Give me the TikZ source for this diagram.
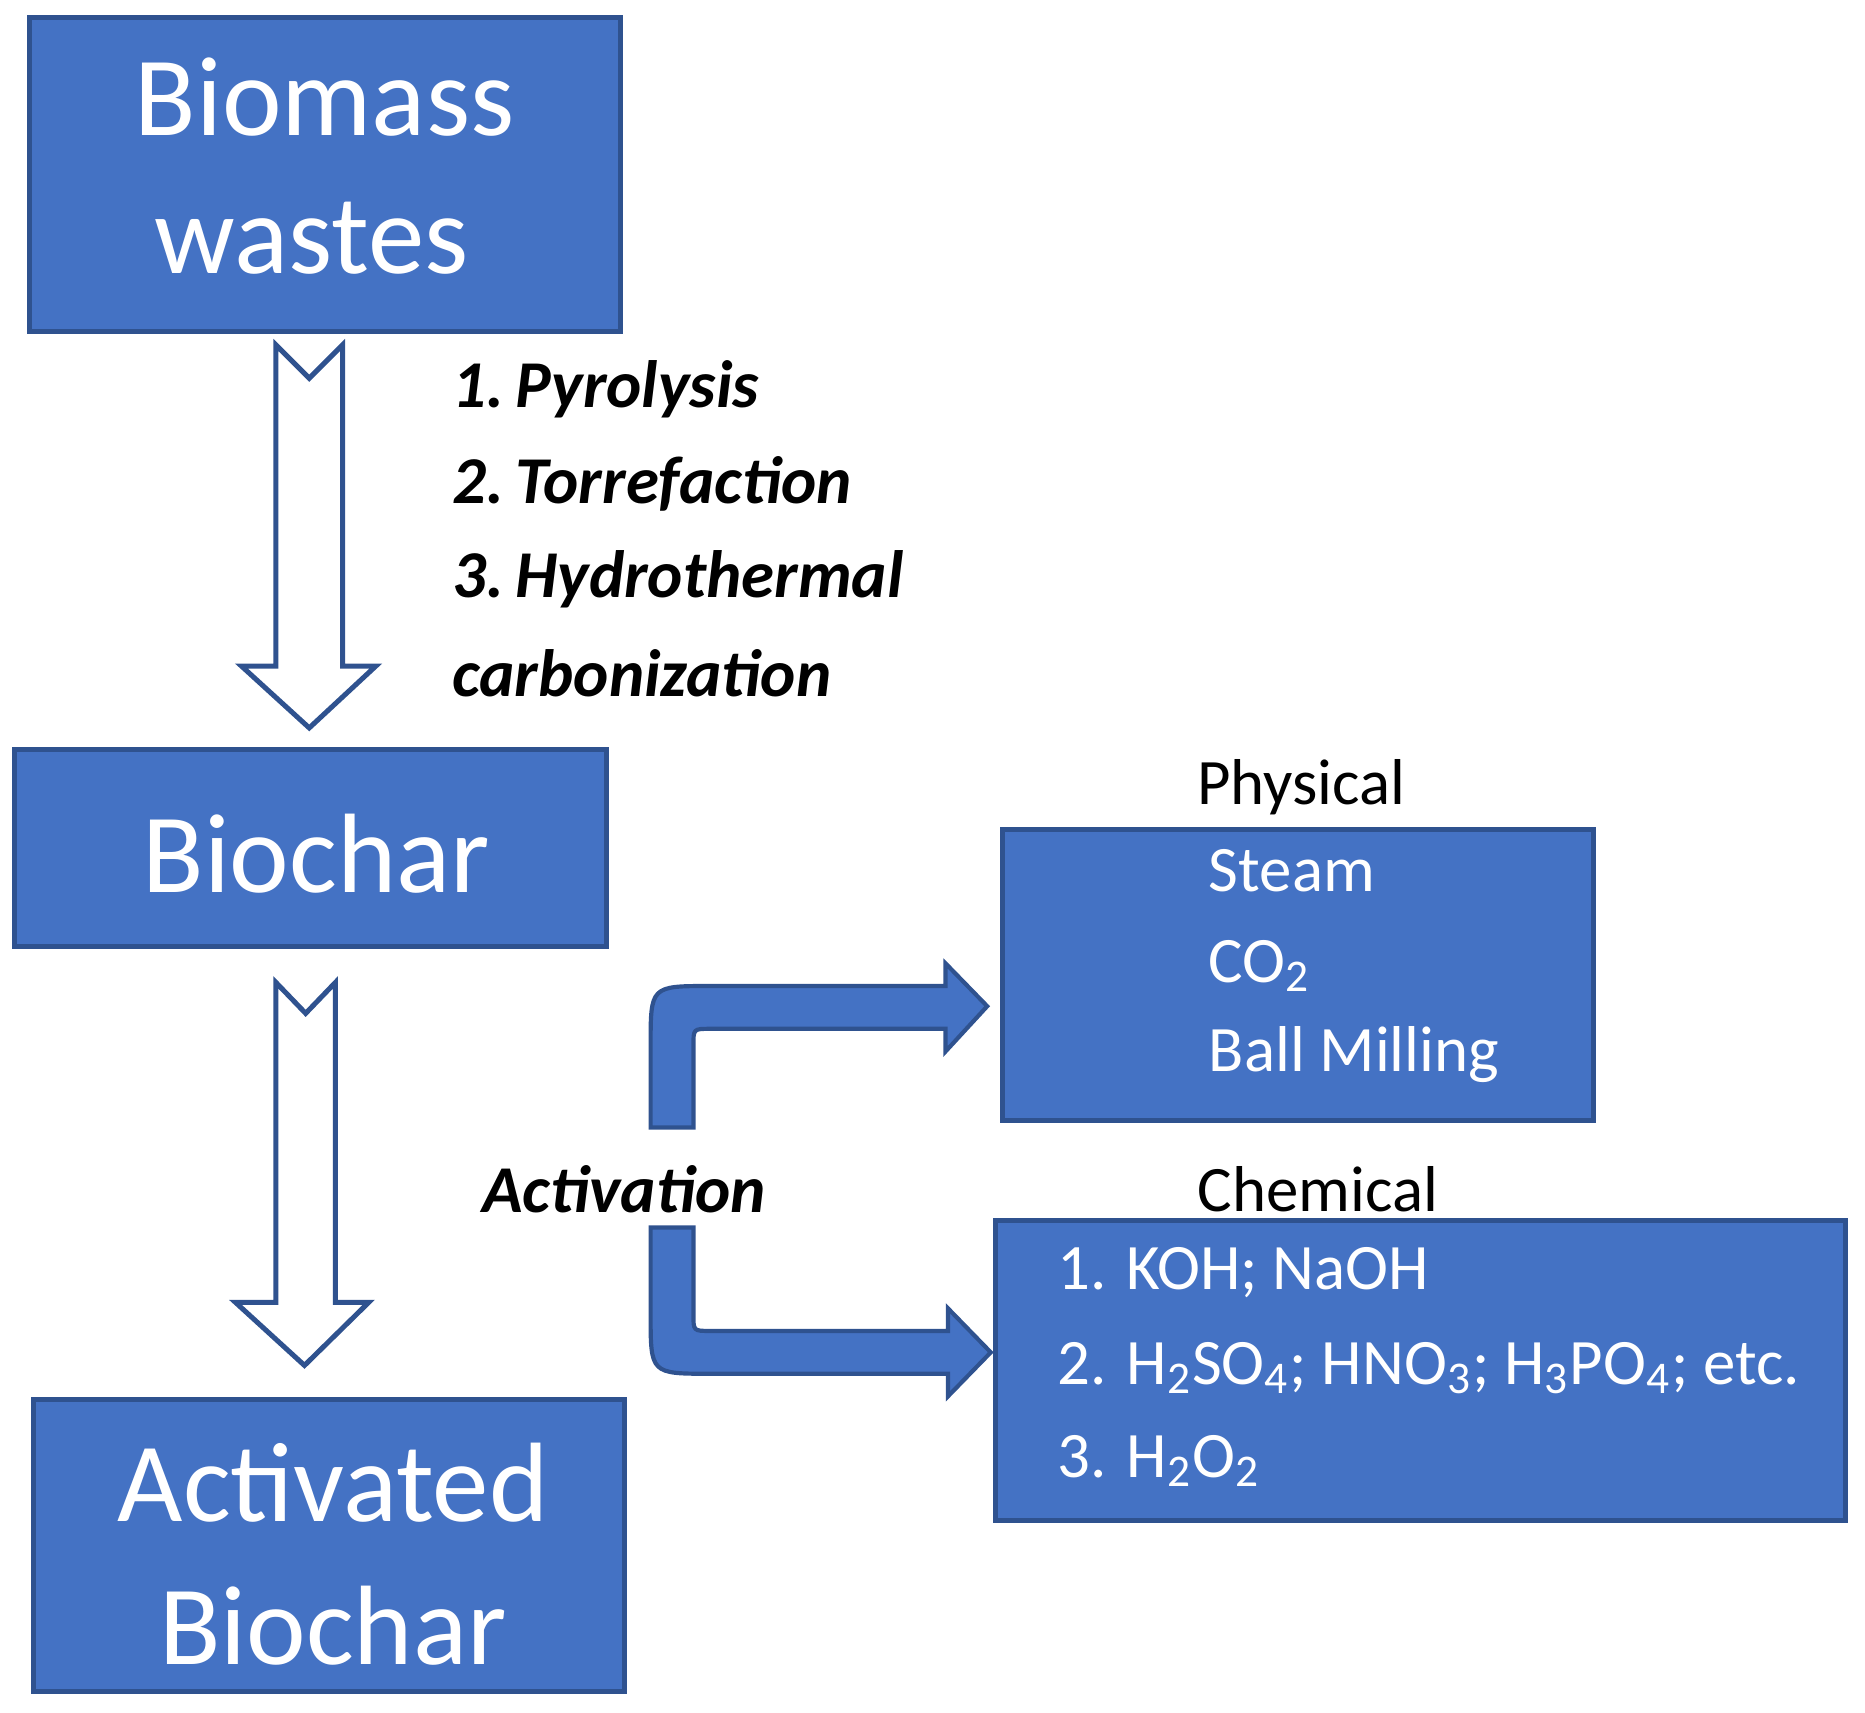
\documentclass[tikz,border=0pt]{standalone}
\usepackage{fontspec}
\setmainfont{Carlito}
\definecolor{bx}{HTML}{4472C4}
\definecolor{bd}{HTML}{2F528F}
\begin{document}
\begin{tikzpicture}[x=0.01cm,y=-0.01cm,
  box/.style={draw=bd,line width=1.2pt,fill=bx},
  big/.style={text=white,font=\fontsize{27}{32}\selectfont},
  lab/.style={font=\fontsize{16}{19}\selectfont\bfseries\itshape,anchor=west},
  txt/.style={text=white,font=\fontsize{15.5}{19}\selectfont,anchor=west},
  hd/.style={font=\fontsize{15.5}{19}\selectfont},
  hol/.style={draw=bd,line width=1.2pt,fill=white},
  bent/.style={draw=bd,line width=1pt,fill=bx}]
\useasboundingbox (0,0) rectangle (1568,1440);
% boxes
\draw[box] (25,15) rectangle (522,279);
\node[big] (bm1) at (273,82) {Biomass};
\node[big] (bm2) at (262,200) {wastes};
\draw[box] (12,630) rectangle (510,796);
\node[big] (bc) at (266,718) {Biochar};
\draw[box] (28,1177) rectangle (525,1422);
\node[big] (ab1) at (280,1247) {Activated};
\node[big] (ab2) at (280,1367) {Biochar};
\draw[box] (843,697) rectangle (1340,942);
\draw[box] (837,1026) rectangle (1552,1278);
% hollow arrows
\draw[hol] (232,290)--(260,318)--(288,290)--(288,560)--(316,560)--(260,612)--(203,560)--(232,560)--cycle;
\draw[hol] (232,826)--(257,852)--(282,826)--(282,1095)--(310,1095)--(256,1148)--(198,1095)--(232,1095)--cycle;
% bent arrows
\draw[bent] (547,948)--(547,879) .. controls (547,829) .. (597,829)--(795,829)--(795,810)--(830,846)--(795,884)--(795,865)--(597,865) .. controls (583,865) .. (583,879)--(583,948)--cycle;
\draw[bent] (547,1032)--(547,1105) .. controls (547,1155) .. (597,1155)--(797,1155)--(797,1174)--(833,1137)--(797,1100)--(797,1119)--(597,1119) .. controls (583,1119) .. (583,1105)--(583,1032)--cycle;
% labels
\node[lab] (p1) at (368,327) {1.\,Pyrolysis};
\node[lab] (p2) at (368,407) {2.\,Torrefaction};
\node[lab] (p3) at (368,487) {3.\,Hydrothermal};
\node[lab] (p4) at (368,566) {carbonization};
\node[lab] (act) at (393,1000) {Activation};
\node[hd] (ph) at (1094,662) {Physical};
\node[hd] (ch) at (1108,1000) {Chemical};
\node[txt] (s1) at (1004,732) {Steam};
\node[txt] (s2) at (1004,812) {CO\textsubscript{2}};
\node[txt] (s3) at (1004,887) {Ball Milling};
\node[txt] (c1) at (877,1070) {1. KOH; NaOH};
\node[txt] (c2) at (877,1150) {2. H\textsubscript{2}SO\textsubscript{4}; HNO\textsubscript{3}; H\textsubscript{3}PO\textsubscript{4}; etc.};
\node[txt] (c3) at (877,1228) {3. H\textsubscript{2}O\textsubscript{2}};
\end{tikzpicture}
\end{document}
